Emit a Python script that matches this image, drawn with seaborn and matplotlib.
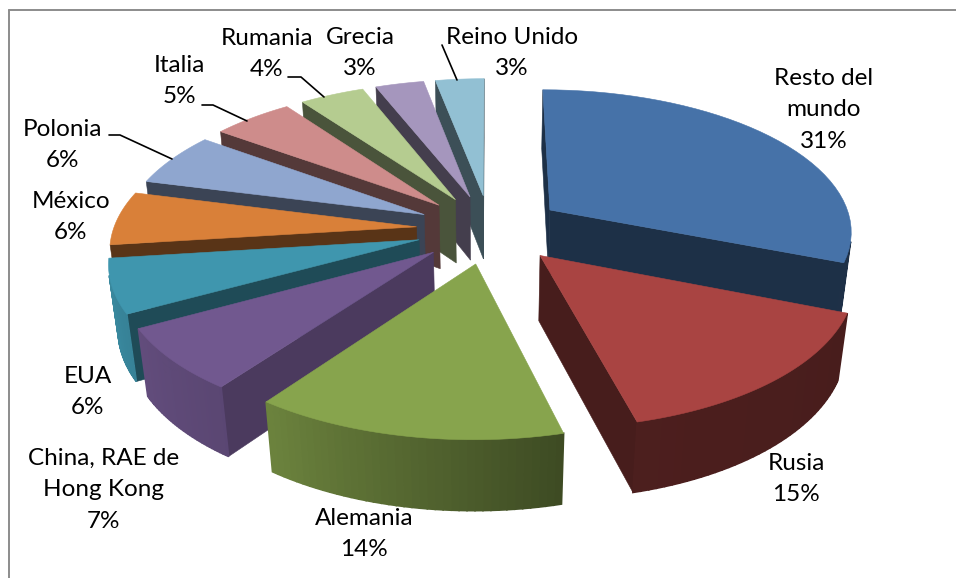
import numpy as np
import matplotlib
matplotlib.use("Agg")
import matplotlib.pyplot as plt
import seaborn as sns

# datos del grafico
paises = ['Resto del\nmundo', 'Rusia', 'Alemania', 'China, RAE de\nHong Kong', 'EUA', 'México',
          'Polonia', 'Italia', 'Rumania', 'Grecia', 'Reino Unido']
valores = [31, 15, 14, 7, 6, 6, 6, 5, 4, 3, 3]
colores = ['#4672A8', '#A94442', '#87A44D', '#71588F', '#3F96AE', '#D98039',
           '#8FA6CF', '#CE8C8B', '#B5CC90', '#A596BD', '#92C0D3']
pos_etiquetas = [(824, 110), (796, 479), (364, 534), (104, 490), (88, 392), (71, 217),
                 (63, 145), (179, 81), (267, 54), (360, 53), (512, 53)]
lineas_guia = [[(109, 135), (120, 135), (172, 159)],
               [(202, 105), (213, 105), (247, 121)],
               [(288, 77), (301, 77), (324, 97)],
               [(442, 45), (457, 80)]]

# proyeccion del pastel 3D
cx, cy = 490, 229
rx, ry = 303, 141.4
persp = 0.136
persp_z = 0.025
alto = 66
explosion = 0.2435


def proyectar(x, y, z):
    s = 1 / (1 + persp * y + persp_z * z)
    return cx + rx * x * s, cy + (alto * z - ry * y) * s


def sombra(color, f):
    return tuple(np.array(matplotlib.colors.to_rgb(color)) * f)


def cara(ax, xs, ys, color, lw=0.4):
    # solo las caras que miran al observador
    area = np.sum(np.array(xs) * np.roll(ys, -1) - np.roll(xs, -1) * np.array(ys))
    if area > 0:
        ax.fill(xs, ys, color=color, lw=lw)


def dibujar_porcion(ax, ini, fin, color):
    medio = (ini + fin) / 2
    ox = explosion * np.sin(medio)
    oy = explosion * np.cos(medio)
    ang = np.linspace(ini, fin, 40)
    bx = ox + np.sin(ang)
    by = oy + np.cos(ang)

    # paredes radiales, la luz cambia con el angulo
    for a in (ini, fin):
        x1, y1 = ox + np.sin(a), oy + np.cos(a)
        p = [proyectar(ox, oy, 0), proyectar(x1, y1, 0), proyectar(x1, y1, 1), proyectar(ox, oy, 1)]
        xs, ys = zip(*p)
        f = np.interp(np.degrees(a), [165, 216, 241, 262], [0.42, 0.66, 0.5, 0.41])
        if a == fin:
            cara(ax, xs, ys, sombra(color, f))
        else:
            cara(ax, xs[::-1], ys[::-1], sombra(color, f))

    # pared exterior con degradado segun el angulo
    for i in range(len(ang) - 1):
        f = np.interp(np.degrees((ang[i] + ang[i + 1]) / 2), [100, 165, 216, 262, 360], [0.42, 0.45, 0.8, 0.92, 0.92])
        p = [proyectar(bx[i], by[i], 0), proyectar(bx[i + 1], by[i + 1], 0),
             proyectar(bx[i + 1], by[i + 1], 1), proyectar(bx[i], by[i], 1)]
        xs, ys = zip(*p)
        cara(ax, xs[::-1], ys[::-1], sombra(color, f), lw=1.2)

    # cara superior
    p = [proyectar(ox, oy, 0)] + [proyectar(a, b, 0) for a, b in zip(bx, by)]
    xs, ys = zip(*p)
    ax.fill(xs, ys, color=color, lw=0.4)


sns.set_theme(style="white")
plt.rcParams['font.family'] = ['Lato', 'DejaVu Sans']
paleta = sns.color_palette(colores)

fig, ax = plt.subplots(figsize=(9.56, 5.78), dpi=100)
fig.subplots_adjust(0, 0, 1, 1)
ax.set_xlim(0, 956)
ax.set_ylim(578, 0)
ax.axis('off')

# marco del grafico
ax.plot([9, 9], [578, 10], color='#8C8C8C', lw=1.4)
ax.plot([9, 956], [10, 10], color='#8C8C8C', lw=1.4)

acum = np.cumsum([0] + valores) / sum(valores) * 2 * np.pi
medios = (acum[:-1] + acum[1:]) / 2

# de atras hacia adelante
orden = np.argsort(-np.cos(medios))
for i in orden:
    dibujar_porcion(ax, acum[i], acum[i + 1], paleta[i])

for linea in lineas_guia:
    xs, ys = zip(*linea)
    ax.plot(xs, ys, color='black', lw=1.2)

for nombre, valor, (x, y) in zip(paises, valores, pos_etiquetas):
    ax.text(x, y, f'{nombre}\n{valor}%', ha='center', va='center', fontsize=17.5,
            linespacing=1.63, color='black')

plt.savefig('out.png', dpi=100)
